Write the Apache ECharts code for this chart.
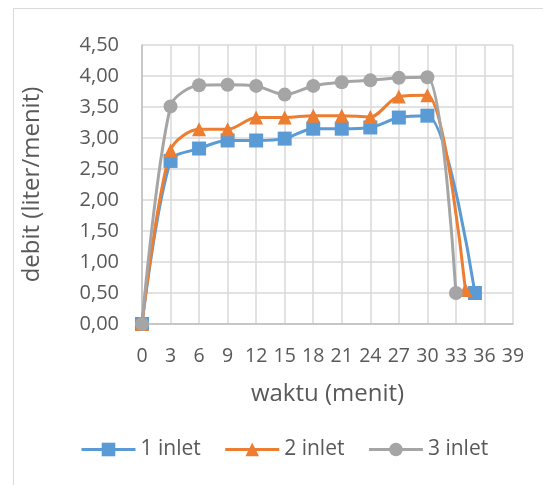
<!DOCTYPE html>
<html>
<head>
<meta charset="utf-8">
<style>
  html, body { margin: 0; padding: 0; background: #fff; }
  #chart { width: 543px; height: 485px; }
</style>
<script src="https://cdn.jsdelivr.net/npm/echarts@6/dist/echarts.min.js"></script>
</head>
<body>
<div id="chart"></div>
<script>
/* -------------------------------------------------------------------------- */
/*                         Debit vs waktu (1/2/3 inlet)                       */
/* -------------------------------------------------------------------------- */

const xTicks = [0, 3, 6, 9, 12, 15, 18, 21, 24, 27, 30, 33, 36, 39];
const yTicks = [0, 0.5, 1, 1.5, 2, 2.5, 3, 3.5, 4, 4.5];

const waktu1 = [0, 3, 6, 9, 12, 15, 18, 21, 24, 27, 30, 35];
const debit1 = [0, 2.63, 2.83, 2.96, 2.96, 2.99, 3.15, 3.15, 3.17, 3.33, 3.36, 0.5];

const waktu2 = [0, 3, 6, 9, 12, 15, 18, 21, 24, 27, 30, 34];
const debit2 = [0, 2.8, 3.14, 3.14, 3.33, 3.33, 3.36, 3.36, 3.34, 3.67, 3.69, 0.55];

const waktu3 = [0, 3, 6, 9, 12, 15, 18, 21, 24, 27, 30, 33];
const debit3 = [0, 3.51, 3.85, 3.86, 3.84, 3.7, 3.84, 3.9, 3.93, 3.97, 3.98, 0.5];

const seriesNames = ['1 inlet', '2 inlet', '3 inlet'];

const chartInit = () => {
  const $chartEl = document.getElementById('chart');
  const chart = echarts.init($chartEl, null, { renderer: 'canvas' });

  const textColor = '#595959';
  const font = 'Open Sans';
  const pair = (xs, ys) => xs.map((x, i) => [x, ys[i]]);

  const lineSeries = (name, data, color, symbol) => ({
    name,
    type: 'line',
    data,
    smooth: 0.3,
    symbol,
    symbolSize: 14,
    showSymbol: true,
    lineStyle: { color, width: 3 },
    itemStyle: { color, borderWidth: 0 },
    emphasis: { disabled: true }
  });

  chart.setOption({
    animation: false,
    color: ['#5B9BD5', '#ED7D31', '#A5A5A5'],
    graphic: [
      {
        type: 'rect',
        shape: { x: 13.5, y: 8.5, width: 560, height: 500 },
        style: { fill: 'none', stroke: '#D9D9D9', lineWidth: 1 },
        silent: true
      }
    ],
    grid: { left: 142, right: 30, top: 45, bottom: 161 },
    legend: {
      data: seriesNames,
      bottom: 20,
      left: 75,
      itemWidth: 54,
      itemHeight: 17,
      itemGap: 23,
      lineStyle: { width: 3 },
      textStyle: { color: textColor, fontFamily: font, fontSize: 21 }
    },
    xAxis: {
      type: 'value',
      min: xTicks[0],
      max: xTicks[xTicks.length - 1],
      interval: 3,
      name: 'waktu (menit)',
      nameLocation: 'middle',
      nameGap: 58,
      nameTextStyle: { color: textColor, fontFamily: font, fontSize: 24 },
      axisLine: { show: true, lineStyle: { color: '#BFBFBF', width: 1.5 } },
      axisTick: { show: false },
      splitLine: { show: true, lineStyle: { color: '#D9D9D9', width: 1.5 } },
      axisLabel: {
        color: textColor,
        fontFamily: font,
        fontSize: 19.5,
        margin: 22,
        showMinLabel: true,
        showMaxLabel: true
      }
    },
    yAxis: {
      type: 'value',
      min: yTicks[0],
      max: yTicks[yTicks.length - 1],
      interval: 0.5,
      name: 'debit (liter/menit)',
      nameLocation: 'middle',
      nameGap: 98,
      nameTextStyle: { color: textColor, fontFamily: font, fontSize: 24 },
      axisLine: { show: true, lineStyle: { color: '#BFBFBF', width: 1.5 } },
      axisTick: { show: false },
      splitLine: { show: true, lineStyle: { color: '#D9D9D9', width: 1.5 } },
      axisLabel: {
        color: textColor,
        fontFamily: font,
        fontSize: 20,
        margin: 23,
        formatter: v => v.toFixed(2).replace('.', ',')
      }
    },
    series: [
      lineSeries(seriesNames[0], pair(waktu1, debit1), '#5B9BD5', 'rect'),
      lineSeries(seriesNames[1], pair(waktu2, debit2), '#ED7D31', 'triangle'),
      lineSeries(seriesNames[2], pair(waktu3, debit3), '#A5A5A5', 'circle')
    ]
  });
};

chartInit();
</script>
</body>
</html>
